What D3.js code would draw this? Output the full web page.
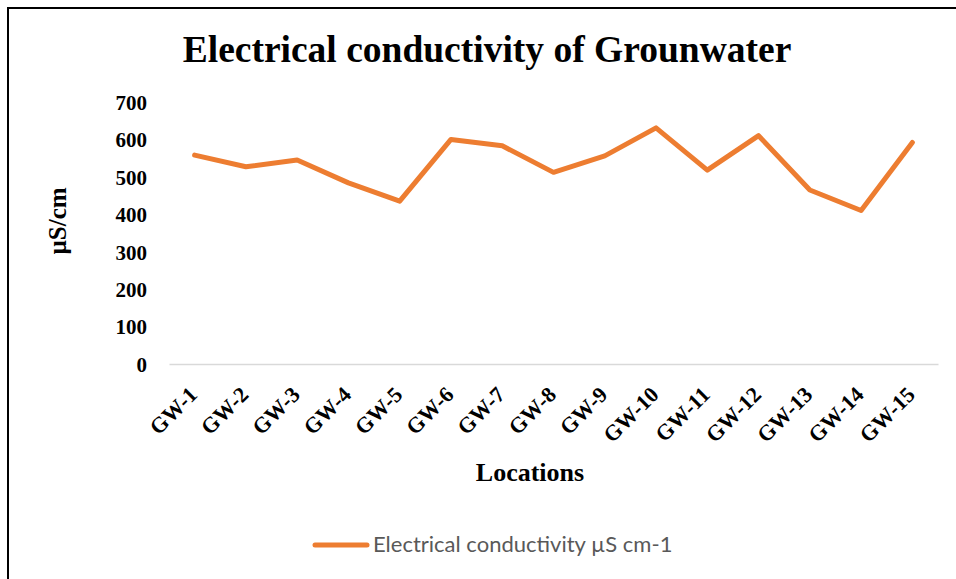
<!DOCTYPE html>
<html>
<head>
<meta charset="utf-8">
<script src="https://cdn.jsdelivr.net/npm/d3@7"></script>
<style>
  html, body { margin: 0; padding: 0; background: #fff; }
  svg { display: block; }
</style>
</head>
<body>
<svg id="chart" width="956" height="579"></svg>
<script>
// Groundwater sampling wells and their electrical conductivity (µS/cm)
const locations = ["GW-1","GW-2","GW-3","GW-4","GW-5","GW-6","GW-7","GW-8","GW-9","GW-10","GW-11","GW-12","GW-13","GW-14","GW-15"];
const conductivity = [558, 527, 545, 484, 435, 600, 583, 512, 556, 631, 518, 610, 465, 410, 592];
const yTicks = [0, 100, 200, 300, 400, 500, 600, 700];

const titleText = "Electrical conductivity of Grounwater";
const xTitle = "Locations";
const yTitle = "µS/cm";
const seriesName = "Electrical conductivity µS cm-1";

const svg = d3.select("#chart");
const serif = "'Liberation Serif', 'Times New Roman', serif";
const lineColor = "#ED7D31";

const plot = { left: 169, right: 938, top: 102, bottom: 364 };

// outer chart frame (right and bottom edges fall outside the view)
svg.append("rect")
  .attr("x", 8).attr("y", 8)
  .attr("width", 1000).attr("height", 1000)
  .attr("fill", "none").attr("stroke", "#000").attr("stroke-width", 2);

const x = d3.scaleBand().domain(locations).range([plot.left, plot.right]);
const y = d3.scaleLinear().domain([0, 700]).range([plot.bottom, plot.top]);

// title
svg.append("text")
  .attr("x", 487).attr("y", 62)
  .attr("text-anchor", "middle")
  .attr("font-family", serif).attr("font-weight", "bold").attr("font-size", 37.5)
  .attr("fill", "#000")
  .text(titleText);

// y axis labels (no axis line or gridlines)
const yAxis = d3.axisLeft(y).tickValues(yTicks).tickSize(0).tickPadding(0);
const gy = svg.append("g").attr("transform", `translate(147,0)`).call(yAxis);
gy.select(".domain").remove();
gy.selectAll("text")
  .attr("font-family", serif).attr("font-weight", "bold").attr("font-size", 21)
  .attr("fill", "#000").attr("dy", "0.35em");

// category axis: baseline plus rotated labels
const xAxis = d3.axisBottom(x).tickSize(0).tickPadding(0);
const gx = svg.append("g").attr("transform", `translate(0,${plot.bottom})`).call(xAxis);
gx.select(".domain").attr("stroke", "#d9d9d9").attr("stroke-width", 1.5);
gx.selectAll(".tick text")
  .attr("font-family", serif).attr("font-weight", "bold").attr("font-size", 22)
  .attr("fill", "#000")
  .attr("text-anchor", "end")
  .attr("dy", "0")
  .attr("y", 0)
  .attr("transform", "translate(4,32) rotate(-45)");

// axis titles
svg.append("text")
  .attr("x", 530).attr("y", 481)
  .attr("text-anchor", "middle")
  .attr("font-family", serif).attr("font-weight", "bold").attr("font-size", 26)
  .attr("fill", "#000")
  .text(xTitle);

svg.append("text")
  .attr("transform", "translate(66,221) rotate(-90)")
  .attr("text-anchor", "middle")
  .attr("font-family", serif).attr("font-weight", "bold").attr("font-size", 25)
  .attr("fill", "#000")
  .text(yTitle);

// data line
const line = d3.line()
  .x((d, i) => x(locations[i]) + x.bandwidth() / 2)
  .y(d => y(d));

svg.append("path")
  .datum(conductivity)
  .attr("d", line)
  .attr("fill", "none")
  .attr("stroke", lineColor)
  .attr("stroke-width", 5)
  .attr("stroke-linejoin", "round")
  .attr("stroke-linecap", "round");

// legend
const legend = svg.append("g");
legend.append("line")
  .attr("x1", 315).attr("x2", 367).attr("y1", 545).attr("y2", 545)
  .attr("stroke", lineColor).attr("stroke-width", 5).attr("stroke-linecap", "round");
legend.append("text")
  .attr("x", 373).attr("y", 552)
  .attr("font-family", "Lato, 'Open Sans', sans-serif").attr("font-size", 22)
  .attr("fill", "#595959")
  .text(seriesName);
</script>
</body>
</html>
